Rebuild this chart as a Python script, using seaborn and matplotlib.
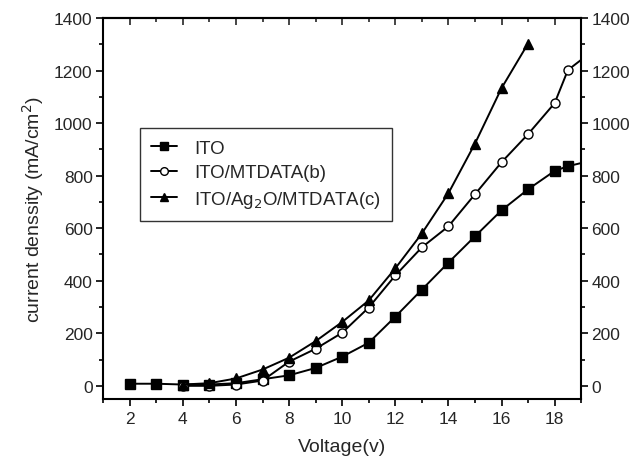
import numpy as np
import pandas as pd
import matplotlib
matplotlib.use('Agg')
import matplotlib.pyplot as plt
from matplotlib.ticker import MultipleLocator
import seaborn as sns

# values
ito_v = [2, 3, 4, 5, 6, 7, 8, 9, 10, 11, 12, 13, 14, 15, 16, 17, 18, 18.5, 19.5]
ito_j = [8, 8, 5, 5, 10, 25, 40, 68, 111, 164, 263, 366, 469, 569, 668, 748, 818, 836, 860]

mtdata_v = [4, 5, 6, 7, 8, 9, 10, 11, 12, 13, 14, 15, 16, 17, 18, 18.5, 19.5]
mtdata_j = [0, 0, 5, 20, 92, 141, 202, 298, 420, 527, 607, 729, 851, 958, 1076, 1202, 1280]

ag2o_v = [4, 5, 6, 7, 8, 9, 10, 11, 12, 13, 14, 15, 16, 17]
ag2o_j = [5, 10, 28, 62, 107, 170, 243, 325, 447, 580, 733, 922, 1133, 1303]

labels = ['ITO', 'ITO/MTDATA(b)', 'ITO/Ag$_2$O/MTDATA(c)']

sns.set_style('ticks')
plt.rcParams['font.family'] = ['Liberation Sans', 'DejaVu Sans']

fig = plt.figure(figsize=(6.29, 4.64), dpi=100)
ax = fig.add_axes([0.164, 0.138, 0.76, 0.821])

series = [(ito_v, ito_j, 's', 'k'), (mtdata_v, mtdata_j, 'o', 'white'), (ag2o_v, ag2o_j, '^', 'k')]
for (v, j, m, fc), lab in zip(series, labels):
    sns.lineplot(x=v, y=j, ax=ax, color='k', lw=1.4, marker=m, markersize=6.5,
                 markerfacecolor=fc, markeredgecolor='k', markeredgewidth=1.0,
                 label=lab, sort=False)

ax.set_xlim(1, 19)
ax.set_ylim(-50, 1400)
ax.xaxis.set_major_locator(MultipleLocator(2))
ax.xaxis.set_minor_locator(MultipleLocator(1))
ax.yaxis.set_major_locator(MultipleLocator(200))
ax.yaxis.set_minor_locator(MultipleLocator(100))
ax.set_xticks(np.arange(2, 19, 2))

ax.tick_params(axis='both', which='major', direction='out', length=5, width=1.2, labelsize=12.5, color='k')
ax.tick_params(axis='both', which='minor', direction='out', length=3, width=1.2, color='k')
ax.tick_params(axis='y', which='both', right=True, labelright=True, pad=2.5)
ax.tick_params(axis='x', which='both', top=False)

top = ax.secondary_xaxis('top')
top.xaxis.set_major_locator(MultipleLocator(2))
top.xaxis.set_minor_locator(MultipleLocator(1))
top.tick_params(which='major', direction='in', length=5, width=1.2, labeltop=False)
top.tick_params(which='minor', direction='in', length=3, width=1.2)
top.spines['top'].set_linewidth(1.5)

for s in ax.spines.values():
    s.set_linewidth(1.5)
    s.set_color('k')

ax.set_xlabel('Voltage(v)', fontsize=14, labelpad=9)
ax.set_ylabel('current denssity (mA/cm$^2$)', fontsize=14, labelpad=6)

leg = ax.legend(loc='upper left', bbox_to_anchor=(0.077, 0.71), fontsize=13.4,
                frameon=True, fancybox=False, edgecolor='k', handlelength=1.4,
                handletextpad=0.9, borderpad=0.6, labelspacing=0.4, markerscale=0.85,
                borderaxespad=0)
leg.get_frame().set_linewidth(1.0)

fig.savefig('out.png', dpi=100)
